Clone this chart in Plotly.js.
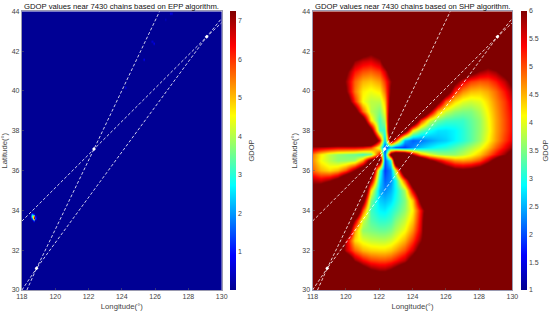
<!DOCTYPE html>
<html>
<head>
<meta charset="utf-8">
<script src="https://cdn.plot.ly/plotly-3.0.1.min.js"></script>
<style>html,body{margin:0;padding:0;background:#fff}#c{width:550px;height:315px}</style>
</head>
<body>
<div id="c"></div>
<script>
// Titles and tick labels
const EPP_TITLE = 'GDOP values near 7430 chains based on EPP algorithm.';
const SHP_TITLE = 'GDOP values near 7430 chains based on SHP algorithm.';
const X_TICKS = [118,120,122,124,126,128,130];
const Y_TICKS = [30,32,34,36,38,40,42,44];
const EPP_BAR_TICKS = [1,2,3,4,5,6,7];
const SHP_BAR_TICKS = [1,1.5,2,2.5,3,3.5,4,4.5,5,5.5,6];

// Transmission-line tracks and stations
const LINE_A_LON = [118,122.33,129.1,130];
const LINE_A_LAT = [33.46,37.08,42.72,43.43];
const LINE_B_LON = [118.3,118.88,123.87,129.1,130];
const LINE_B_LAT = [30,31.09,36.78,42.72,43.65];
const LINE_C_LON = [118,118.88,122.33,126.27];
const LINE_C_LAT = [30,31.09,37.08,44];
const STATION_LON = [118.88,122.33,129.1];
const STATION_LAT = [31.09,37.08,42.72];

// EPP panel: nearly flat background and a few isolated readings
const EPP_BACKGROUND = 0.05;
const EPP_SPOT_LON = [118.6,118.6,118.6,118.7,118.7,118.7,118.7,118.8,118.8,124.2,125.3,125.9,125.8,126.9,127.0,126.6];
const EPP_SPOT_LAT = [33.8,33.7,33.6,33.8,33.7,33.6,33.5,33.7,33.6,40.2,41.6,42.4,42.5,43.9,43.9,43.6];
const EPP_SPOT_GDOP = [2.5,3.5,1.5,1,6,7.2,1.5,1,1.5,0.7,0.8,0.8,0.6,0.8,0.6,0.4];

// SHP panel: GDOP read on a grid (colour saturates at 6)
const SHP_LON = [118,118.5,119,119.5,120,120.5,121,121.5,122,122.35,122.7,123,123.5,124,124.5,125,125.5,126,126.5,127,127.5,128,128.5,129,129.5,130];
const SHP_LAT = [30,30.5,31,31.5,32,32.5,33,33.5,34,34.5,35,35.5,36,36.5,36.8,37.15,37.5,38,38.5,39,39.5,40,40.5,41,41.5,42,42.5,43,43.5,44];
const SHP_GDOP = [
[8,8,8,8,8,8,8,8,8,8,8,8,8,8,8,8,8,8,8,8,8,8,8,8,8,8],
[8,8,8,8,8,8,8,7.5,7,7,7.4,8,8,8,8,8,8,8,8,8,8,8,8,8,8,8],
[8,8,8,8,8,7.5,6.6,6.1,5.9,5.9,6.1,6.4,7,8,8,8,8,8,8,8,8,8,8,8,8,8],
[8,8,8,8,7.2,5.9,5.4,5.1,5,5,5.1,5.3,5.7,6.5,8,8,8,8,8,8,8,8,8,8,8,8],
[8,8,8,7,5.7,4.9,4.5,4.35,4.3,4.3,4.4,4.6,5,5.6,6.5,8,8,8,8,8,8,8,8,8,8,8],
[8,8,8,8,5.7,4.3,4,3.85,3.8,3.8,3.9,4.1,4.5,5.1,5.9,7,8,8,8,8,8,8,8,8,8,8],
[8,8,8,8,7.5,4.6,3.6,3.5,3.4,3.4,3.5,3.75,4.1,4.7,5.6,7.5,8,8,8,8,8,8,8,8,8,8],
[8,8,8,8,8,5.8,3.9,3.3,3.1,3.1,3.2,3.5,3.85,4.4,5.5,7.5,8,8,8,8,8,8,8,8,8,8],
[8,8,8,8,8,8,5,3.2,2.85,2.8,3,3.2,3.6,4.2,5.4,7,8,8,8,8,8,8,8,8,8,8],
[8,8,8,8,8,8,6.5,3.5,2.65,2.55,2.7,3,3.5,4.4,6.3,8,8,8,8,8,8,8,8,8,8,8],
[6.3,6.8,7.5,8,8,8,8,4.3,2.5,2.3,2.5,2.9,3.7,5.6,7,8,8,8,8,8,8,8,8,8,8,8],
[5.8,5.6,5.9,6.4,7.5,8,8,6,2.8,2.1,2.3,3,5,7,8,8,8,8,7,7,7,8,8,8,8,8],
[4.9,4.5,4.3,4.5,5,6,7,7.5,3.2,1.9,2.3,4,7.5,8,8,8,7.5,6.8,6.3,6.2,6.3,6.6,7.2,8,8,8],
[4.7,4.1,3.8,3.6,3.6,3.7,4.6,6.5,7,2,3,8,8,8,7.5,6.2,5.6,5.1,4.7,4.6,4.7,5,5.6,6.4,7.5,8],
[4.8,4.2,3.8,3.6,3.5,3.4,3.2,3.4,5.5,2,6.5,8,7.5,5.8,4.6,4,3.7,3.6,3.6,3.8,4.05,4.4,4.85,5.35,5.9,6.5],
[5.8,5.7,5.6,5.5,5.5,5.5,5.4,5.1,3.8,1.9,2.5,2,1.9,2.3,2.6,2.8,2.95,3.05,3.25,3.45,3.7,4,4.4,4.9,5.4,5.9],
[8,8,8,8,8,8,8,8,5.5,2.6,6.5,5,2.5,2.1,2.2,2.4,2.55,2.65,2.85,3.05,3.3,3.65,4.1,4.6,5.1,5.5],
[8,8,8,8,8,8,8,6.5,3.2,3.1,8,8,6.6,4.2,3.4,2.95,2.75,2.75,2.85,3.05,3.3,3.6,4,4.55,5,5.4],
[8,8,8,8,8,8,6.8,4.3,3.2,3.7,7.5,8,8,7.5,5.2,3.9,3.4,3.2,3.15,3.15,3.35,3.6,4.05,4.55,5,5.4],
[8,8,8,8,8,6.6,4.9,3.8,3.5,4.1,6.8,8,8,8,8,6,4.5,3.9,3.6,3.5,3.5,3.75,4.15,4.6,5.05,5.45],
[8,8,8,8,6.8,5.2,4.1,3.8,3.8,4.4,6.4,8,8,8,8,8,6.4,4.9,4.3,4,3.9,4,4.3,4.7,5.1,5.6],
[8,8,8,7.5,6.1,4.8,4.2,4.05,4.2,4.8,6.1,8,8,8,8,8,8,6.8,5.2,4.7,4.45,4.4,4.55,4.85,5.3,5.85],
[8,8,8,7,5.9,4.9,4.5,4.4,4.6,5.1,5.9,7.5,8,8,8,8,8,8,6.3,5.5,5.1,4.95,5,5.25,5.7,6.3],
[8,8,8,7.5,6.2,5.3,5,4.9,5.1,5.6,6.5,8,8,8,8,8,8,8,8,7,6.4,5.9,5.7,5.9,6.4,7],
[8,8,8,8,7,5.9,5.6,5.5,5.8,6.6,8,8,8,8,8,8,8,8,8,8,7.5,6.9,6.5,6.9,8,8],
[8,8,8,8,8,7,6.5,6.2,6.5,8,8,8,8,8,8,8,8,8,8,8,8,8,8,8,8,8],
[8,8,8,8,8,8,8,8,8,8,8,8,8,8,8,8,8,8,8,8,8,8,8,8,8,8],
[8,8,8,8,8,8,8,8,8,8,8,8,8,8,8,8,8,8,8,8,8,8,8,8,8,8],
[8,8,8,8,8,8,8,8,8,8,8,8,8,8,8,8,8,8,8,8,8,8,8,8,8,8],
[8,8,8,8,8,8,8,8,8,8,8,8,8,8,8,8,8,8,8,8,8,8,8,8,8,8]
];

// Build the EPP grid (0.1 degree) from the background and the isolated readings
const eppLon = Array.from({length:121},(_,i)=>+(118+i*0.1).toFixed(1));
const eppLat = Array.from({length:141},(_,j)=>+(30+j*0.1).toFixed(1));
const eppZ = eppLat.map(()=>eppLon.map(()=>EPP_BACKGROUND));
EPP_SPOT_GDOP.forEach((v,k)=>{
  eppZ[Math.round((EPP_SPOT_LAT[k]-30)*10)][Math.round((EPP_SPOT_LON[k]-118)*10)] = v;
});

const W=550,H=315;
const Y_TOP=11.3,Y_BOT=290;
const JET=[[0,'#00008f'],[0.125,'#0000ff'],[0.375,'#00ffff'],[0.625,'#ffff00'],[0.875,'#ff0000'],[1,'#800000']];
const FONT='Liberation Sans, Arial, sans-serif';
const TXT='#444444';

function bar(xpx,tickvals){
  return {x:xpx/W,xanchor:'left',xpad:0,ypad:0,y:(H-Y_BOT)/H,yanchor:'bottom',len:(Y_BOT-Y_TOP)/H,lenmode:'fraction',
    thickness:6,thicknessmode:'pixels',outlinewidth:0,tickmode:'array',tickvals:tickvals,ticktext:tickvals.map(String),
    ticks:'',tickfont:{family:FONT,size:7,color:TXT},title:{text:'GDOP',side:'right',font:{family:FONT,size:7.5,color:TXT}}};
}
function lines(xa,ya){
  const s={xaxis:xa,yaxis:ya,type:'scatter',mode:'lines',hoverinfo:'skip',showlegend:false,
    line:{color:'rgba(255,255,255,0.8)',width:1,dash:'3px,2px'}};
  return [
    Object.assign({x:LINE_A_LON,y:LINE_A_LAT},s),
    Object.assign({x:LINE_B_LON,y:LINE_B_LAT},s),
    Object.assign({x:LINE_C_LON,y:LINE_C_LAT},s),
    {xaxis:xa,yaxis:ya,type:'scatter',mode:'markers',x:STATION_LON,y:STATION_LAT,hoverinfo:'skip',showlegend:false,
      marker:{color:'#ffffff',size:3,symbol:'diamond'}}
  ];
}
const data=[
  {type:'heatmap',xaxis:'x',yaxis:'y',x:eppLon,y:eppLat,z:eppZ,zsmooth:'best',zmin:0.01,zmax:7.25,colorscale:JET,colorbar:bar(231,EPP_BAR_TICKS)},
  ...lines('x','y'),
  {type:'heatmap',xaxis:'x2',yaxis:'y2',x:SHP_LON,y:SHP_LAT,z:SHP_GDOP,zsmooth:'best',zmin:1,zmax:6,colorscale:JET,colorbar:bar(523,SHP_BAR_TICKS)},
  ...lines('x2','y2')
];
function xax(l,r){return {domain:[l/W,r/W],range:[118,130],tickmode:'array',tickvals:X_TICKS,ticktext:X_TICKS.map(String),ticks:'inside',ticklen:2,tickcolor:'#666',tickwidth:0.5,
  tickfont:{family:FONT,size:7,color:TXT},showgrid:false,zeroline:false,showline:true,mirror:true,linecolor:'#9a9ab0',linewidth:1,tickangle:0,
  title:{text:'Longitude(°)',font:{family:FONT,size:7.7,color:TXT},standoff:4}};}
function yax(anchor){return {domain:[(H-Y_BOT)/H,(H-Y_TOP)/H],range:[30,44],anchor:anchor,tickmode:'array',tickvals:Y_TICKS,ticktext:Y_TICKS.map(String),ticks:'inside',ticklen:2,tickcolor:'#666',tickwidth:0.5,
  tickfont:{family:FONT,size:7,color:TXT},showgrid:false,zeroline:false,showline:true,mirror:true,linecolor:'#9a9ab0',linewidth:1,
  title:{text:'Latitude(°)',font:{family:FONT,size:7.7,color:TXT},standoff:3}};}
const layout={width:W,height:H,margin:{l:0,r:0,t:0,b:0},paper_bgcolor:'#fff',plot_bgcolor:'#fff',showlegend:false,
  xaxis:Object.assign(xax(22,222.5),{anchor:'y'}),
  yaxis:yax('x'),
  xaxis2:Object.assign(xax(313.7,514.3),{anchor:'y2'}),
  yaxis2:yax('x2'),
  annotations:[
    {text:EPP_TITLE,xref:'paper',yref:'paper',x:122/W,y:(H-6)/H,xanchor:'center',yanchor:'middle',showarrow:false,font:{family:FONT,size:7.7,color:'#111'}},
    {text:SHP_TITLE,xref:'paper',yref:'paper',x:414/W,y:(H-6)/H,xanchor:'center',yanchor:'middle',showarrow:false,font:{family:FONT,size:7.7,color:'#111'}}
  ]};
Plotly.newPlot('c',data,layout,{displayModeBar:false,staticPlot:true});
</script>
</body>
</html>
